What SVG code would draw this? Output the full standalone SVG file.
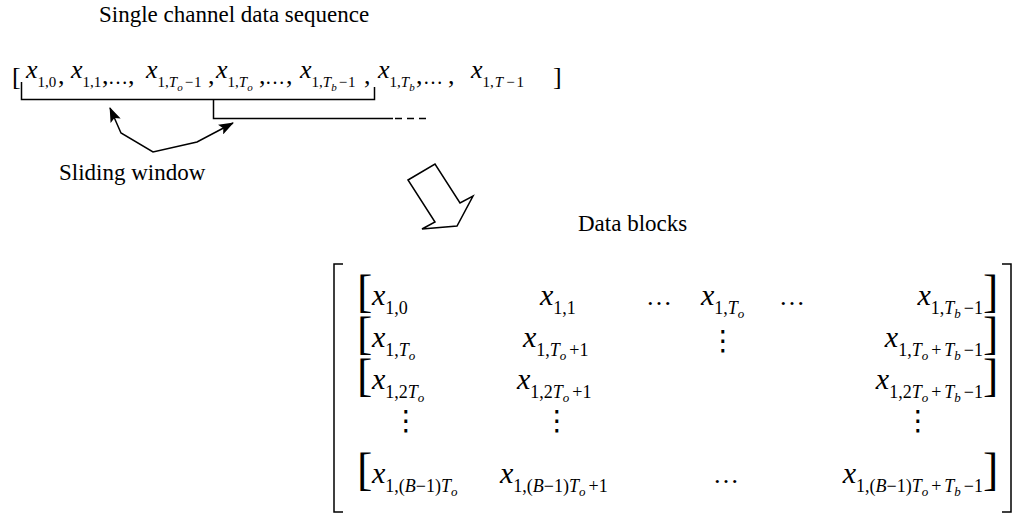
<svg xmlns="http://www.w3.org/2000/svg" width="1015" height="516" viewBox="0 0 1015 516">
<style>
text{font-family:"Liberation Serif","Times New Roman",serif;fill:#000}
.t{font-size:23px}
.v{font-size:26px;font-style:italic}
.up{font-size:26px}
.el{font-size:20px}
.br{font-size:26px}
.s{font-size:15px;font-style:normal}
.si{font-size:15px;font-style:italic}
.ss{font-size:11px;font-style:italic}
.mv{font-size:30px;font-style:italic}
.ms{font-size:18px;font-style:normal}
.msi{font-size:18px;font-style:italic}
.mss{font-size:13px;font-style:italic}
.mb{font-size:46px}
.dots{font-size:26px}
.vd{font-size:28px;font-family:"DejaVu Serif","DejaVu Sans",serif}
.ln{fill:none;stroke:#000;stroke-width:1.5}
</style>
<defs>
<marker id="ah" viewBox="0 0 15 11" refX="14" refY="5.5" markerWidth="15" markerHeight="11" markerUnits="userSpaceOnUse" orient="auto-start-reverse">
<path d="M0,0 L15,5.5 L0,11 L3,5.5 z" fill="#000"/>
</marker>
</defs>
<rect width="1015" height="516" fill="#fff"/>

<g id="title"><text class="t" x="99" y="22">Single channel data sequence</text></g>

<g id="sequence">
<text class="br" x="12" y="85">[</text>
<text class="v" x="26" y="78">x<tspan class="s" dy="9">1,0</tspan></text>
<text class="up" x="58" y="84">,</text>
<text class="v" x="71" y="78">x<tspan class="s" dy="9">1,1</tspan></text>
<text class="up" x="102" y="84">,</text>
<text class="el" x="108" y="84">…</text>
<text class="up" x="128" y="84">,</text>
<text class="v" x="146" y="78">x<tspan class="s" dy="9">1,</tspan><tspan class="si">T</tspan><tspan class="ss" dy="4">o</tspan><tspan class="s" dy="-4" dx="2">&#8722;</tspan><tspan class="s" dx="1">1</tspan></text>
<text class="up" x="208" y="84">,</text>
<text class="v" x="216" y="78">x<tspan class="s" dy="9">1,</tspan><tspan class="si">T</tspan><tspan class="ss" dy="4">o</tspan></text>
<text class="up" x="259" y="84">,</text>
<text class="el" x="265" y="84">…</text>
<text class="up" x="286" y="84">,</text>
<text class="v" x="300" y="78">x<tspan class="s" dy="9">1,</tspan><tspan class="si">T</tspan><tspan class="ss" dy="4">b</tspan><tspan class="s" dy="-4" dx="2">&#8722;</tspan><tspan class="s" dx="1">1</tspan></text>
<text class="up" x="364" y="84">,</text>
<text class="v" x="378" y="78">x<tspan class="s" dy="9">1,</tspan><tspan class="si">T</tspan><tspan class="ss" dy="4">b</tspan></text>
<text class="up" x="416" y="84">,</text>
<text class="el" x="423" y="84">…</text>
<text class="up" x="448" y="84">,</text>
<text class="v" x="471" y="78">x<tspan class="s" dy="9">1,</tspan><tspan class="si" dx="1">T</tspan><tspan class="s" dx="3">&#8722;</tspan><tspan class="s" dx="2">1</tspan></text>
<text class="br" x="553" y="85">]</text>
</g>

<g id="connectors">
<path class="ln" d="M21.5,82 V99.5 H374.5 V87"/>
<path class="ln" d="M213.5,99.5 V118.5 H393"/>
<path class="ln" d="M395,118.5 H428" stroke-dasharray="7,5"/>
<path class="ln" d="M110,108 L121,133 L153,152 L197,142 L233,123" marker-start="url(#ah)" marker-end="url(#ah)"/>
</g>

<g id="sliding-window-label"><text class="t" x="59" y="180" font-size="24">Sliding window</text></g>

<g id="transform-arrow">
<polygon class="ln" points="408,180 435,164 460,203 473,196 457,226 422,229 435,222"/>
</g>

<g id="data-blocks-label"><text class="t" x="578" y="231">Data blocks</text></g>

<g id="data-blocks">
<path class="ln" d="M343,264 H334 V512 H343"/>
<path class="ln" d="M1002,264 H1011 V512 H1002"/>

<!-- row 1 -->
<text class="mb" x="357" y="307">[</text>
<text class="mv" x="372" y="305">x<tspan class="ms" dy="9">1,0</tspan></text>
<text class="mv" x="540" y="305">x<tspan class="ms" dy="9">1,1</tspan></text>
<text class="dots" x="646" y="305">…</text>
<text class="mv" x="701" y="305">x<tspan class="ms" dy="9">1,</tspan><tspan class="msi">T</tspan><tspan class="mss" dy="4">o</tspan></text>
<text class="dots" x="779" y="305">…</text>
<text class="mv" x="983" y="305" text-anchor="end">x<tspan class="ms" dy="9">1,</tspan><tspan class="msi">T</tspan><tspan class="mss" dy="4">b</tspan><tspan class="ms" dy="-4" dx="3">&#8722;1</tspan></text>
<text class="mb" x="983" y="307">]</text>

<!-- row 2 -->
<text class="mb" x="357" y="349">[</text>
<text class="mv" x="372" y="347">x<tspan class="ms" dy="9">1,</tspan><tspan class="msi">T</tspan><tspan class="mss" dy="4">o</tspan></text>
<text class="mv" x="523" y="347">x<tspan class="ms" dy="9">1,</tspan><tspan class="msi">T</tspan><tspan class="mss" dy="4">o</tspan><tspan class="ms" dy="-4" dx="3">+1</tspan></text>
<text class="vd" x="723" y="350" text-anchor="middle">⋮</text>
<text class="mv" x="983" y="347" text-anchor="end">x<tspan class="ms" dy="9">1,</tspan><tspan class="msi">T</tspan><tspan class="mss" dy="4">o</tspan><tspan class="ms" dy="-4" dx="3">+</tspan><tspan class="msi" dx="3">T</tspan><tspan class="mss" dy="4">b</tspan><tspan class="ms" dy="-4" dx="3">&#8722;1</tspan></text>
<text class="mb" x="983" y="349">]</text>

<!-- row 3 -->
<text class="mb" x="357" y="391">[</text>
<text class="mv" x="372" y="389">x<tspan class="ms" dy="9">1,2</tspan><tspan class="msi">T</tspan><tspan class="mss" dy="4">o</tspan></text>
<text class="mv" x="517" y="389">x<tspan class="ms" dy="9">1,2</tspan><tspan class="msi">T</tspan><tspan class="mss" dy="4">o</tspan><tspan class="ms" dy="-4" dx="3">+1</tspan></text>
<text class="mv" x="983" y="389" text-anchor="end">x<tspan class="ms" dy="9">1,2</tspan><tspan class="msi">T</tspan><tspan class="mss" dy="4">o</tspan><tspan class="ms" dy="-4" dx="3">+</tspan><tspan class="msi" dx="3">T</tspan><tspan class="mss" dy="4">b</tspan><tspan class="ms" dy="-4" dx="3">&#8722;1</tspan></text>
<text class="mb" x="983" y="391">]</text>

<!-- row 4: vertical dots -->
<text class="vd" x="406" y="430" text-anchor="middle">⋮</text>
<text class="vd" x="557" y="430" text-anchor="middle">⋮</text>
<text class="vd" x="918" y="430" text-anchor="middle">⋮</text>

<!-- row 5 -->
<text class="mb" x="357" y="485">[</text>
<text class="mv" x="372" y="483">x<tspan class="ms" dy="9">1,(</tspan><tspan class="msi">B</tspan><tspan class="ms">&#8722;1)</tspan><tspan class="msi">T</tspan><tspan class="mss" dy="4">o</tspan></text>
<text class="mv" x="500" y="483">x<tspan class="ms" dy="9">1,(</tspan><tspan class="msi">B</tspan><tspan class="ms">&#8722;1)</tspan><tspan class="msi">T</tspan><tspan class="mss" dy="4">o</tspan><tspan class="ms" dy="-4" dx="3">+1</tspan></text>
<text class="dots" x="713" y="483">…</text>
<text class="mv" x="983" y="483" text-anchor="end">x<tspan class="ms" dy="9">1,(</tspan><tspan class="msi">B</tspan><tspan class="ms">&#8722;1)</tspan><tspan class="msi">T</tspan><tspan class="mss" dy="4">o</tspan><tspan class="ms" dy="-4" dx="3">+</tspan><tspan class="msi" dx="3">T</tspan><tspan class="mss" dy="4">b</tspan><tspan class="ms" dy="-4" dx="3">&#8722;1</tspan></text>
<text class="mb" x="983" y="485">]</text>
</g>
</svg>
